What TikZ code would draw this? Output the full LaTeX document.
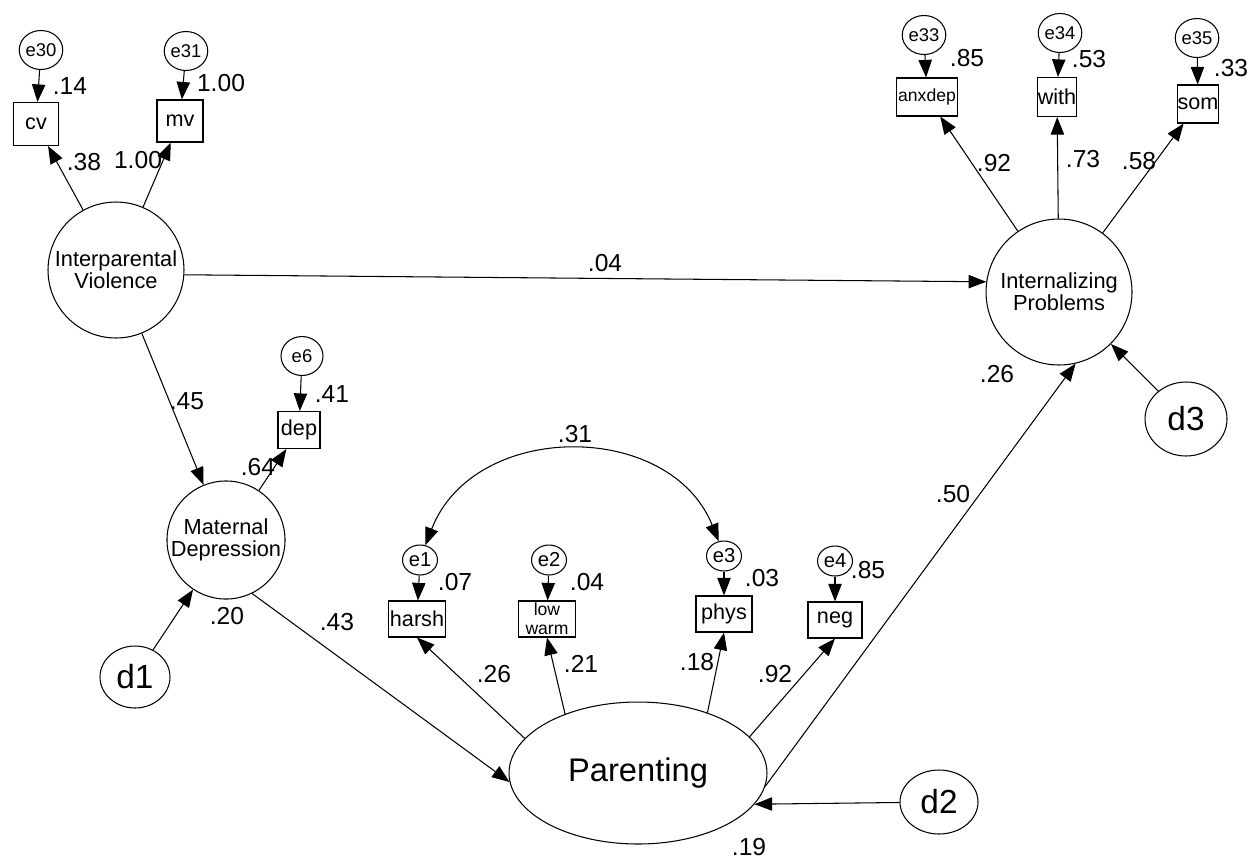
\documentclass[tikz,border=0pt]{standalone}
\usepackage{fontspec}
\setmainfont{Liberation Sans}
\usetikzlibrary{arrows.meta,shapes.geometric}

\begin{document}
\begin{tikzpicture}[x=0.02cm, y=-0.02cm, line width=0.6pt,
    >={Triangle[length=10pt,width=7.6pt]},
    lat/.style={draw,circle,inner sep=0pt,align=center,
                font=\fontsize{12.4}{12.6}\selectfont},
    obs/.style={draw,rectangle,inner sep=1pt,align=center,minimum height=0.72cm,
                font=\fontsize{12.3}{13}\selectfont},
    err/.style={draw,ellipse,inner sep=0pt,minimum width=0.84cm,minimum height=0.78cm,
                font=\fontsize{10.5}{12}\selectfont},
    errs/.style={draw,ellipse,inner sep=0pt,minimum width=0.7cm,minimum height=0.6cm,
                 font=\fontsize{11.5}{12}\selectfont},
    dist/.style={draw,ellipse,inner sep=0pt,font=\fontsize{19}{20}\selectfont},
    coef/.style={inner sep=0pt,font=\fontsize{14}{14}\selectfont}]
    \useasboundingbox (0,0) rectangle (1256,859);

    \node[lat,minimum size=2.72cm] (iv) at (116,270) {Interparental\\Violence};
    \node[lat,minimum size=2.92cm] (ip) at (1059,292) {Internalizing\\Problems};
    \node[lat,minimum size=2.2cm]  (md) at (226,540) {Maternal\\Depression};
    \node[draw,ellipse,inner sep=0pt,minimum width=5.16cm,minimum height=2.84cm,
          font=\fontsize{18.6}{20}\selectfont] (par) at (638,773) {Parenting};

    \node[dist,minimum width=1.4cm,minimum height=1.24cm]  (d1) at (135,677) {d1};
    \node[dist,minimum width=1.56cm,minimum height=1.28cm] (d2) at (939,802) {d2};
    \node[dist,minimum width=1.64cm,minimum height=1.48cm] (d3) at (1186,419) {d3};

    \node[obs,minimum width=0.9cm,minimum height=0.86cm]  (cv) at (36,124) {cv};
    \node[obs,minimum width=0.92cm,minimum height=0.84cm] (mv) at (180,121) {mv};
    \node[obs,minimum width=1.2cm,minimum height=0.76cm,
          font=\fontsize{10}{10}\selectfont] (anxdep) at (927,97) {anxdep};
    \node[obs,inner sep=0pt,minimum width=0.78cm,minimum height=0.78cm] (with) at (1057,97) {with};
    \node[obs,inner sep=0pt,minimum width=0.78cm,minimum height=0.76cm] (som) at (1198,104) {som};
    \node[obs,minimum width=0.84cm,minimum height=0.74cm] (dep) at (299,430) {dep};
    \node[obs,minimum width=1.12cm] (harsh) at (417,619) {harsh};
    \node[obs,minimum width=1.14cm,inner sep=0pt,
          font=\fontsize{10}{10.6}\selectfont] (lowwarm) at (547,619) {low\\warm};
    \node[obs,minimum width=1.12cm] (phys) at (724,614) {phys};
    \node[obs,minimum width=1.08cm] (neg) at (835,620) {neg};

    \node[err] (e30) at (41,50) {e30};
    \node[err] (e31) at (186,51) {e31};
    \node[err] (e33) at (924,35) {e33};
    \node[err] (e34) at (1060,33) {e34};
    \node[err] (e35) at (1197,38) {e35};
    \node[err] (e6) at (302,356) {e6};
    \node[errs] (e1) at (420,560) {e1};
    \node[errs] (e2) at (549,560) {e2};
    \node[errs] (e3) at (724,556) {e3};
    \node[errs] (e4) at (835,561) {e4};

    \draw[->] (e30) -- (cv);
    \draw[->] (e31) -- (mv);
    \draw[->] (e33) -- (anxdep);
    \draw[->] (e34) -- (with);
    \draw[->] (e35) -- (som);
    \draw[->] (e6) -- (dep);
    \draw[->] (e1) -- (harsh);
    \draw[->] (e2) -- (lowwarm);
    \draw[->] (e3) -- (phys);
    \draw[->] (e4) -- (neg);

    \draw[->] (iv) -- (cv);
    \draw[->] (iv) -- (mv);
    \draw[->] (iv.356) -- (ip.172);
    \draw[->] (iv) -- (md);
    \draw[->] (ip) -- (anxdep);
    \draw[->] (ip) -- (with);
    \draw[->] (ip) -- (som);
    \draw[->] (md) -- (dep);
    \draw[->] (d1) -- (md);
    \draw[->] (md.296) -- (par.184);
    \draw[->] (par.163) -- (harsh.south);
    \draw[->] (par.141) -- (lowwarm.south);
    \draw[->] (par.41) -- (phys.south);
    \draw[->] (par.18) -- (neg.south);
    \draw[->] (par.354) -- (ip.283);
    \draw[->] (d2) -- (par.345);
    \draw[->] (d3) -- (ip);
    \draw[<->] (e1.70) .. controls (474,420) and (670,420) .. (e3.110);

    \node[coef] (c30) at (70,86) {.14};
    \node[coef] (c31) at (221,83) {1.00};
    \node[coef] (ccv) at (84,162) {.38};
    \node[coef] (cmv) at (138,160) {1.00};
    \node[coef] (c33) at (967,58) {.85};
    \node[coef] (c34) at (1089,59) {.53};
    \node[coef] (c35) at (1231,68) {.33};
    \node[coef] (canx) at (994,163) {.92};
    \node[coef] (cwith) at (1083,159) {.73};
    \node[coef] (csom) at (1139,161) {.58};
    \node[coef] (civip) at (605,263) {.04};
    \node[coef] (civmd) at (187,401) {.45};
    \node[coef] (c6) at (332,394) {.41};
    \node[coef] (cdep) at (258,467) {.64};
    \node[coef] (cmd) at (227,616) {.20};
    \node[coef] (cmdpar) at (337,622) {.43};
    \node[coef] (ccov) at (575,434) {.31};
    \node[coef] (c1) at (455,582) {.07};
    \node[coef] (c2) at (587,582) {.04};
    \node[coef] (c3) at (762,578) {.03};
    \node[coef] (c4) at (868,570) {.85};
    \node[coef] (charsh) at (494,674) {.26};
    \node[coef] (clow) at (581,664) {.21};
    \node[coef] (cphys) at (697,662) {.18};
    \node[coef] (cneg) at (775,674) {.92};
    \node[coef] (cpar) at (749,847) {.19};
    \node[coef] (cip) at (997,374) {.26};
    \node[coef] (cparip) at (953,494) {.50};
  \end{tikzpicture}
\end{document}
